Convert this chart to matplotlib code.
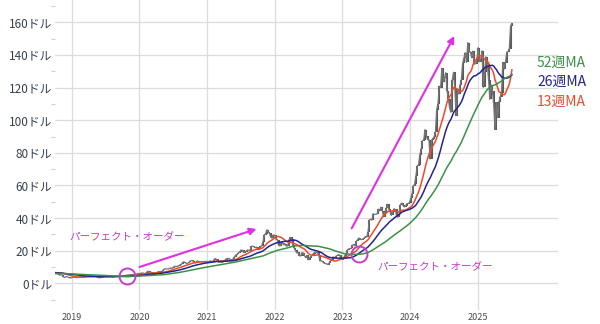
import numpy as np
import pandas as pd
import matplotlib
matplotlib.use("Agg")
import matplotlib.pyplot as plt
import matplotlib.dates as mdates

plt.rcParams['font.family'] = ['Noto Sans CJK JP', 'DejaVu Sans']

# weekly closes (split adjusted, USD), Friday of each week
close_2017 = [4.7, 4.8, 5.0, 5.1, 5.2, 5.4, 5.4, 5.3, 4.9, 4.8, 4.8, 4.9, 4.8]
close_2018 = [5.5, 5.6, 5.9, 6.1, 5.7, 5.9, 6.1, 6.2, 6.0, 6.2, 6.1, 5.6, 5.8,
              5.6, 5.7, 5.6, 5.6, 6.2, 6.4, 6.4, 6.4, 6.6, 6.5, 6.4, 6.1, 5.9,
              6.2, 6.3, 6.3, 6.2, 6.3, 6.3, 6.1, 6.6, 7.0, 6.8, 6.8, 6.8, 7.0,
              6.6, 6.1, 5.7, 5.0, 5.3, 5.1, 4.0, 3.6, 4.1, 4.0, 3.7, 3.3, 3.4]
close_2019 = [3.6, 3.8, 3.8, 3.5, 3.7, 3.9, 4.0, 4.0, 3.9, 4.2, 4.5, 4.4, 4.5,
              4.7, 4.8, 4.8, 4.5, 4.5, 4.3, 3.9, 3.6, 3.4, 3.6, 3.6, 4.0, 4.1,
              4.1, 4.2, 4.3, 4.4, 4.2, 3.9, 4.1, 4.2, 4.4, 4.4, 4.6, 4.4, 4.4,
              4.5, 4.7, 4.9, 5.0, 5.1, 5.2, 5.3, 5.3, 5.4, 5.3, 5.5, 5.9, 6.0]
close_2020 = [5.9, 6.3, 6.3, 6.2, 5.9, 6.6, 7.3, 7.4, 6.8, 6.7, 5.3, 5.4, 6.4,
              6.5, 7.1, 7.2, 7.2, 7.3, 8.0, 8.8, 8.9, 8.8, 8.8, 9.2, 9.4, 9.1,
              10.0, 10.5, 10.2, 10.6, 10.6, 11.4, 11.6, 12.8, 13.2, 12.6, 12.2,
              12.3, 12.8, 13.7, 14.0, 13.7, 12.8, 12.5, 13.6, 13.6, 13.2, 13.2,
              13.4, 13.1, 13.3, 13.0]
close_2021 = [13.1, 13.2, 13.7, 13.5, 13.1, 14.2, 15.2, 14.8, 13.8, 12.9, 13.0,
              12.9, 12.9, 13.8, 14.5, 15.2, 15.3, 15.0, 14.5, 14.3, 15.0, 16.2,
              17.4, 17.7, 18.7, 19.2, 20.4, 20.3, 18.8, 19.6, 19.5, 20.4, 20.3,
              20.1, 22.7, 22.8, 22.4, 21.9, 22.2, 20.7, 20.8, 22.7, 22.8, 25.5,
              29.8, 30.3, 32.9, 31.5, 30.6, 28.2, 27.7, 29.7, 29.4]
close_2022 = [27.3, 26.6, 23.3, 22.9, 25.2, 24.7, 23.6, 24.2, 22.9, 22.9, 26.5,
              28.1, 27.4, 23.2, 21.8, 20.2, 18.6, 18.9, 17.0, 16.7, 18.8, 18.7,
              16.9, 15.8, 17.1, 14.5, 15.8, 16.5, 17.4, 18.2, 19.2, 18.8, 18.9,
              17.3, 13.7, 13.9, 13.2, 12.5, 12.1, 12.0, 11.5, 12.4, 13.8, 14.1,
              16.3, 15.4, 16.5, 16.9, 17.5, 17.5, 15.3, 14.6]
close_2023 = [14.8, 16.9, 17.8, 20.3, 21.1, 21.3, 21.4, 23.3, 23.8, 22.9, 25.7,
              26.7, 27.8, 27.0, 26.8, 27.1, 27.8, 28.7, 28.4, 31.2, 38.9, 39.3,
              38.7, 42.7, 42.2, 42.3, 42.5, 45.5, 44.4, 46.7, 44.6, 40.8, 43.3,
              46.0, 48.5, 45.5, 43.9, 41.6, 43.5, 45.7, 45.4, 41.4, 40.5, 42.3,
              48.3, 49.2, 47.8, 46.8, 47.5, 48.9, 48.9, 49.5]
close_2024 = [52.3, 54.7, 59.5, 61.0, 66.1, 72.1, 72.6, 78.9, 82.2, 87.5, 87.9,
              94.3, 90.4, 88.0, 88.1, 76.2, 87.8, 88.7, 89.9, 92.5, 106.5, 110.0,
              120.9, 120.0, 131.9, 123.5, 125.8, 129.2, 117.9, 113.1, 107.3,
              104.8, 124.6, 129.4, 119.4, 102.8, 119.1, 116.0, 121.4, 124.9,
              134.8, 138.0, 141.5, 135.4, 147.6, 141.9, 141.9, 138.3, 142.4,
              134.3, 134.7, 137.0]
close_2025 = [144.5, 135.9, 137.7, 142.6, 120.1, 129.8, 138.9, 134.4, 124.9,
              112.7, 121.7, 117.7, 109.7, 94.3, 110.9, 101.5, 111.0, 114.5,
              116.7, 135.4, 131.3, 135.1, 141.7, 142.0, 143.9, 157.8, 159.3]

ma_windows = [13, 26, 52]
ma_labels = ['13週MA', '26週MA', '52週MA']
ma_colors = ['#ec4a2a', '#24248f', '#3d9147']

yticks = list(range(0, 161, 20))
ytick_labels = [f'{v}ドル' for v in yticks]
years = list(range(2019, 2026))

closes = (close_2017 + close_2018 + close_2019 + close_2020 + close_2021
          + close_2022 + close_2023 + close_2024 + close_2025)
dates = pd.date_range('2017-10-06', periods=len(closes), freq='W-FRI')
s = pd.Series(closes, index=dates)
ma = {w: s.rolling(w).mean() for w in ma_windows}

start = pd.Timestamp('2018-10-05')
shown = s[s.index >= start]
prev = s.shift(1)[s.index >= start]

fig = plt.figure(figsize=(6.0, 3.24), dpi=100)
ax = fig.add_axes([0.092, 0.043, 0.838, 0.957])

# candle-like bars from the previous close to this close
ax.vlines(shown.index, np.minimum(prev, shown), np.maximum(prev, shown),
          color='#5a5a5a', lw=1.5, zorder=2)
ax.plot(shown.index, shown.values, color='#777777', lw=0.9, zorder=2)

for w, c in zip(ma_windows, ma_colors):
    m = ma[w][ma[w].index >= start]
    ax.plot(m.index, m.values, color=c, lw=1.1, zorder=3)

ax.set_xlim(pd.Timestamp('2018-10-03'), pd.Timestamp('2026-03-10'))
ax.set_ylim(-16.4, 173.7)
ax.set_yticks(yticks)
ax.set_yticklabels(ytick_labels)
ax.set_yticks(list(range(-10, 171, 20)), minor=True)
ax.set_xticks([pd.Timestamp(f'{y}-01-01') for y in years])
ax.xaxis.set_major_formatter(mdates.DateFormatter('%Y'))
ax.grid(True, which='major', color='#dcdcdc', lw=0.9, zorder=0)
for sp in ax.spines.values():
    sp.set_visible(False)
ax.tick_params(axis='y', which='major', length=0, pad=2, labelsize=8.5,
               labelcolor='#35414f')
ax.tick_params(axis='y', which='minor', length=3, width=0.8, color='#d0d0d0')
ax.tick_params(axis='x', length=0, pad=2, labelsize=6.5, labelcolor='#4a4a4a')

magenta = '#e030e0'
text_magenta = '#c83cc8'

# perfect order annotations
ax.annotate('', xy=(pd.Timestamp('2021-09-24'), 33.3),
            xytext=(pd.Timestamp('2020-01-01'), 10.0),
            arrowprops=dict(arrowstyle='-|>', color=magenta, lw=1.5,
                            mutation_scale=10, shrinkA=0, shrinkB=0), zorder=5)
ax.annotate('', xy=(pd.Timestamp('2024-08-27'), 151.6),
            xytext=(pd.Timestamp('2023-02-20'), 33.7),
            arrowprops=dict(arrowstyle='-|>', color=magenta, lw=1.5,
                            mutation_scale=10, shrinkA=0, shrinkB=0), zorder=5)
ax.plot([pd.Timestamp('2019-10-24'), pd.Timestamp('2023-04-03')], [4.5, 17.8],
        ls='none', marker='o', ms=11.5, mfc='none', mec=text_magenta, mew=1.4,
        zorder=6)
ax.text(pd.Timestamp('2019-10-27'), 28.4, 'パーフェクト・オーダー', color=text_magenta,
        fontsize=7.6, ha='center', va='center', zorder=6)
ax.text(pd.Timestamp('2024-05-15'), 10.0, 'パーフェクト・オーダー', color=text_magenta,
        fontsize=7.6, ha='center', va='center', zorder=6)

# moving average labels
for lab, c, ypx in zip(ma_labels[::-1], ma_colors[::-1], [62.7, 82.0, 101.7]):
    fig.text(537 / 600, 1 - ypx / 324, lab, color=c, fontsize=10,
             ha='left', va='center')

fig.savefig('out.png', dpi=100)
